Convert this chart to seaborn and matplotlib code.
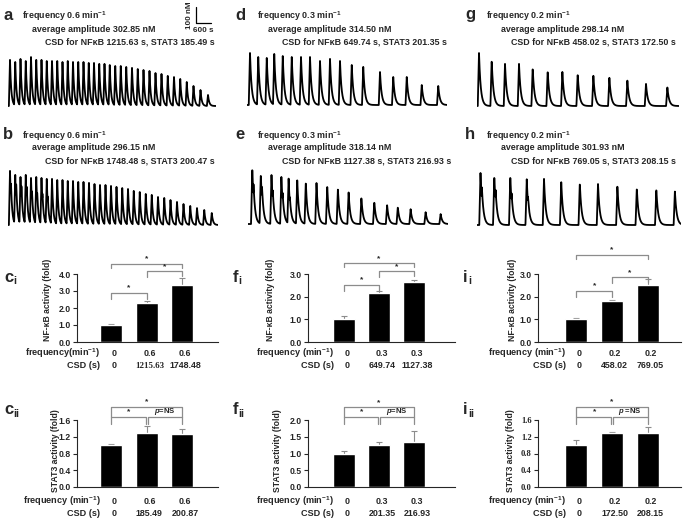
import matplotlib
matplotlib.use("Agg")
import matplotlib.pyplot as plt
import numpy as np
import seaborn as sns

sns.set_style("ticks")
plt.rcParams["font.family"] = ["Liberation Sans", "DejaVu Sans"]
plt.rcParams["font.weight"] = "bold"
plt.rcParams["mathtext.fontset"] = "custom"
plt.rcParams["mathtext.rm"] = "Liberation Sans:bold"
plt.rcParams["mathtext.it"] = "Liberation Sans:italic:bold"
plt.rcParams["mathtext.default"] = "regular"
plt.rcParams["axes.linewidth"] = 0.8

# ---------------- calcium traces: peak times (s) and peak heights (nM)
a_times = [80, 290, 500, 710, 920, 1130, 1340, 1550, 1760, 1970, 2180, 2390, 2600, 2810,
           3020, 3230, 3440, 3650, 3860, 4070, 4290, 4510, 4730, 4960, 5190, 5420, 5660,
           5900, 6140, 6390, 6640, 6890, 7150, 7420, 7700, 8000]
a_peaks = [288, 275, 294, 281, 306, 288, 288, 281, 281, 281, 275, 281, 275, 275, 275, 269,
           269, 263, 263, 256, 250, 250, 244, 238, 231, 225, 219, 206, 200, 188, 181, 169,
           150, 125, 100, 69]
b_times = [80, 290, 500, 710, 920, 1130, 1340, 1550, 1760, 1970, 2180, 2390, 2600, 2810,
           3020, 3240, 3460, 3680, 3900, 4120, 4340, 4570, 4800, 5030, 5270, 5510, 5750,
           6000, 6250, 6500, 6760, 7020, 7290, 7560, 7850, 8150]
b_peaks = [338, 313, 300, 313, 294, 300, 294, 288, 288, 281, 281, 275, 275, 269, 269, 263,
           256, 250, 250, 244, 238, 231, 225, 213, 206, 194, 188, 175, 169, 156, 144, 131,
           119, 106, 94, 75]
b_shoulders = [0.8, 0.85, 0.85, 0.8, 0.75, 0.7, 0.7, 0.65]
d_times = [120, 450, 790, 1090, 1430, 1790, 2160, 2520, 2920, 3320, 3720, 4190, 4650,
           5320, 5850, 6390, 6990, 7650]
d_peaks = [325, 300, 294, 319, 306, 300, 300, 300, 275, 288, 275, 250, 238, 206, 175,
           175, 125, 119]
e_times = [172, 512, 940, 1336, 1624, 1968, 2312, 2740, 3168, 3596, 4024, 4536, 5052,
           5564, 5992, 6504, 7104, 7704]
e_peaks = [350, 313, 306, 300, 288, 281, 263, 256, 238, 219, 200, 163, 138, 119, 106,
           94, 75, 63]
e_shoulders = [0.72, 0.75, 0.7, 0.65, 0.6]
g_times = [80, 587, 1120, 1680, 2227, 2827, 3413, 4027, 4653, 5293, 6013, 6760, 7613]
g_peaks = [331, 288, 263, 263, 238, 219, 219, 200, 194, 181, 163, 138, 119]
h_times = [140, 692, 1332, 1988, 2680, 3368, 4112, 4840, 5616, 6392, 7172, 7916]
h_peaks = [325, 306, 306, 294, 288, 275, 263, 256, 244, 231, 225, 213]
h_shoulders = [0.75, 0.72, 0.65, 0.6]

trace_info = {
    "a": ("0.6", "302.85", "1215.63", "185.49"),
    "b": ("0.6", "296.15", "1748.48", "200.47"),
    "d": ("0.3", "314.50", "649.74", "201.35"),
    "e": ("0.3", "318.14", "1127.38", "216.93"),
    "g": ("0.2", "298.14", "458.02", "172.50"),
    "h": ("0.2", "301.93", "769.05", "208.15"),
}

# ---------------- bar data (fold activity)
nfkb_c = [1.0, 2.31, 3.38]
nfkb_c_err = [0.07, 0.10, 0.38]
nfkb_f = [1.0, 2.15, 2.65]
nfkb_f_err = [0.14, 0.12, 0.10]
nfkb_i = [1.0, 1.80, 2.51]
nfkb_i_err = [0.05, 0.05, 0.25]
stat3_c = [1.0, 1.30, 1.26]
stat3_c_err = [0.03, 0.16, 0.12]
stat3_f = [1.0, 1.25, 1.35]
stat3_f_err = [0.07, 0.08, 0.32]
stat3_i = [1.0, 1.30, 1.30]
stat3_i_err = [0.12, 0.02, 0.14]

freq_c = ["0", "0.6", "0.6"]
freq_f = ["0", "0.3", "0.3"]
freq_i = ["0", "0.2", "0.2"]
csd_nfkb_c = ["0", "1215.63", "1748.48"]
csd_nfkb_f = ["0", "649.74", "1127.38"]
csd_nfkb_i = ["0", "458.02", "769.05"]
csd_stat3_c = ["0", "185.49", "200.87"]
csd_stat3_f = ["0", "201.35", "216.93"]
csd_stat3_i = ["0", "172.50", "208.15"]

# bracket heights (data units): pair 1-2, pair 2-3, pair 1-3
nfkb_brackets = {"c": (2.9, 4.19, 4.6), "f": (2.53, 3.14, 3.47), "i": (2.25, 2.88, 3.85)}
# STAT3: lower bracket, upper bracket, leg bottom
stat3_brackets = {"c": (1.67, 1.91, 1.5), "f": (2.09, 2.38, 1.88), "i": (1.67, 1.91, 1.5)}

W, H = 683, 519
S_PER_PX = 40
GREY = "#8c8c8c"

fig = plt.figure(figsize=(W / 100, H / 100), dpi=100)


def px_axes(x0, y0, w, h):
    return fig.add_axes([x0 / W, 1 - (y0 + h) / H, w / W, h / H])


def fig_text(x, y, s, **kw):
    kw.setdefault("va", "center")
    return fig.text(x / W, 1 - y / H, s, **kw)


def build_trace(times, peaks, shoulders, end, tau, rise_s):
    t = np.arange(0, end + 1, 5.0)
    y = np.zeros_like(t)
    spikes = list(zip(times, peaks))
    for i, s in enumerate(shoulders):
        spikes.append((times[i] + 0.75 * tau, peaks[i] * s))
    for tp, hp in spikes:
        rise = (t >= tp - rise_s) & (t <= tp)
        y = np.where(rise, np.maximum(y, hp * (t - tp + rise_s) / rise_s), y)
        after = t > tp
        y = np.where(after, np.maximum(y, hp * np.exp(-(t - tp) / tau)), y)
    return t, y


def trace_panel(x0, base, w, times, peaks, shoulders, tau, rise_s):
    ax = px_axes(x0, base - 64, w, 66.4)
    t, y = build_trace(times, peaks, shoulders, w * S_PER_PX, tau, rise_s)
    sns.lineplot(x=t, y=y, ax=ax, color="black", linewidth=1.3, estimator=None)
    ax.set_xlim(0, w * S_PER_PX)
    ax.set_ylim(-15, 400)
    ax.axis("off")
    return ax


def trace_text(cols, rows, letter):
    freq, amp, csd_n, csd_s = trace_info[letter]
    fig_text(cols[0], rows[0] - 1, letter, fontsize=12, fontweight="bold")
    fig_text(cols[1], rows[0], f"frequency {freq} min$^{{-1}}$", fontsize=6.4)
    fig_text(cols[2], rows[1], f"average amplitude {amp} nM", fontsize=6.4)
    fig_text(cols[3], rows[2], f"CSD for NF\u03baB {csd_n} s, STAT3 {csd_s} s", fontsize=6.4)


# trace panels
ax_a = trace_panel(8, 106, 208, a_times, a_peaks, [], 50, 45)
trace_panel(8, 225, 210, b_times, b_peaks, b_shoulders, 50, 45)
trace_panel(247, 105, 200, d_times, d_peaks, [], 65, 50)
trace_panel(248, 224, 200, e_times, e_peaks, e_shoulders, 65, 50)
trace_panel(477, 106, 202, g_times, g_peaks, [], 70, 50)
trace_panel(477, 225, 204, h_times, h_peaks, h_shoulders, 70, 50)

top_rows = (16, 29, 42)
bot_rows = (136, 148, 161)
col1 = (3, 22, 32, 45)
col2 = (235, 257, 268, 282)
col3 = (465, 486, 501, 511)
trace_text(col1, top_rows, "a")
trace_text(col1, bot_rows, "b")
trace_text(col2, top_rows, "d")
trace_text(col2, bot_rows, "e")
trace_text(col3, top_rows, "g")
trace_text(col3, bot_rows, "h")

# scale bar (100 nM, 600 s) drawn in trace a units
sx, sy = 7520, 519
ax_a.plot([sx, sx, sx + 600], [sy + 100, sy, sy], color="black", lw=0.9, clip_on=False)
ax_a.text(sx - 250, sy + 50, "100 nM", rotation=90, fontsize=5.8, ha="center", va="center")
ax_a.text(sx + 300, sy - 50, "600 s", fontsize=5.8, ha="center", va="center")


def bracket(ax, x1, x2, y, low1, low2):
    ax.plot([x1, x1, x2, x2], [low1, y, y, low2], color=GREY, lw=0.9, clip_on=False)


def bar_panel(rect, xlim, vals, errs, ymax, yticks, ylabel, label_dx, label_y,
              freqs, csds, freq_label, row_px, serif_ticks=False, csd_fonts=None):
    x0, y0, w, h = rect
    ax = px_axes(x0, y0, w, h)
    sns.barplot(x=["0", "1", "2"], y=vals, ax=ax, color="black", saturation=1,
                width=0.62, errorbar=None)
    ax.errorbar([0, 1, 2], vals, yerr=errs, fmt="none", ecolor=GREY, elinewidth=0.8,
                capsize=2, capthick=0.8, zorder=0.5)
    ax.set_xlim(*xlim)
    ax.set_ylim(0, ymax)
    ax.set_yticks(yticks)
    ax.set_yticklabels([f"{v:.1f}" for v in yticks])
    ax.tick_params(axis="y", labelsize=6.2, length=3, width=0.8, pad=1.5)
    ax.tick_params(axis="x", length=0, labelbottom=False)
    if serif_ticks:
        for lbl in ax.get_yticklabels():
            lbl.set_family("Liberation Serif")
    ax.set_xlabel("")
    ax.set_ylabel(ylabel, fontsize=6.2, fontweight="bold")
    ax.yaxis.set_label_coords(-label_dx / w, label_y)
    sns.despine(ax=ax)
    # rows under the axis
    for k, (fq, cs) in enumerate(zip(freqs, csds)):
        ax.annotate(fq, xy=(k + 0.08, 0), xycoords=("data", "axes fraction"),
                    xytext=(0, -row_px[0] * 0.72), textcoords="offset points",
                    ha="center", va="center", fontsize=6.4)
        fam = csd_fonts[k] if csd_fonts else "Liberation Sans"
        ax.annotate(cs, xy=(k + 0.08, 0), xycoords=("data", "axes fraction"),
                    xytext=(0, -row_px[1] * 0.72), textcoords="offset points",
                    ha="center", va="center", fontsize=6.4, family=fam)
    ax.annotate(freq_label, xy=(-0.3, 0), xycoords=("data", "axes fraction"),
                xytext=(0, -row_px[0] * 0.72), textcoords="offset points",
                ha="right", va="center", fontsize=6.6)
    ax.annotate("CSD (s)", xy=(-0.3, 0), xycoords=("data", "axes fraction"),
                xytext=(0, -row_px[1] * 0.72), textcoords="offset points",
                ha="right", va="center", fontsize=6.6)
    return ax


def nfkb_marks(ax, levels, ymax, h):
    b12, b23, b13 = levels
    u = ymax / h  # data units per pixel
    bracket(ax, 0, 1, b12, b12 - 6 * u, b12 - 6 * u)
    bracket(ax, 1, 2, b23, b23 - 6 * u, b23 - 5 * u)
    bracket(ax, 0, 2, b13, b13 - 4 * u, b13 - 4 * u)
    ax.text(0.5, b12 + 5 * u, "*", ha="center", va="center", fontsize=6)
    ax.text(1.5, b23 + 4 * u, "*", ha="center", va="center", fontsize=6)
    ax.text(1.0, b13 + 5 * u, "*", ha="center", va="center", fontsize=6)


def stat3_marks(ax, levels, ymax, h, ns_text):
    low, up, leg = levels
    u = ymax / h
    bracket(ax, 0, 0.97, low, leg, leg)
    bracket(ax, 1.03, 2, low, leg, leg)
    bracket(ax, 0, 2, up, low, low)
    mid = (low + up) / 2
    ax.text(0.5, mid, "*", ha="center", va="center", fontsize=6)
    ax.text(1.5, mid + 1 * u, ns_text, ha="center", va="center", fontsize=5.5)
    ax.text(1.0, up + 5 * u, "*", ha="center", va="center", fontsize=6)


nf_rows = (11, 24)
st_rows = (14, 27)
nf_label = "NF-\u03baB activity (fold)"
st_label = "STAT3 activity (fold)"

ax = bar_panel((77, 274, 141, 68), (-0.958, 3.01), nfkb_c, nfkb_c_err, 4.0,
               [0, 1, 2, 3, 4], nf_label, 25, 0.62, freq_c, csd_nfkb_c,
               "frequency(min$^{-1}$)", nf_rows,
               csd_fonts=["Liberation Sans", "Liberation Serif", "Liberation Sans"])
nfkb_marks(ax, nfkb_brackets["c"], 4.0, 68)
ax = bar_panel((308, 274, 147, 68), (-1.03, 3.17), nfkb_f, nfkb_f_err, 3.0,
               [0, 1, 2, 3], nf_label, 33, 0.62, freq_f, csd_nfkb_f,
               "frequency (min$^{-1}$)", nf_rows)
nfkb_marks(ax, nfkb_brackets["f"], 3.0, 68)
ax = bar_panel((538, 274, 143, 68), (-1.08, 2.94), nfkb_i, nfkb_i_err, 3.0,
               [0, 1, 2, 3], nf_label, 21, 0.62, freq_i, csd_nfkb_i,
               "frequency (min$^{-1}$)", nf_rows)
nfkb_marks(ax, nfkb_brackets["i"], 3.0, 68)

ax = bar_panel((77, 420, 141, 67), (-0.958, 3.01), stat3_c, stat3_c_err, 1.6,
               [0, 0.4, 0.8, 1.2, 1.6], st_label, 17, 0.55, freq_c, csd_stat3_c,
               "frequency (min$^{-1}$)", st_rows)
stat3_marks(ax, stat3_brackets["c"], 1.6, 67, "$\\mathit{p}$=NS")
ax = bar_panel((308, 420, 147, 67), (-1.03, 3.17), stat3_f, stat3_f_err, 2.0,
               [0, 0.5, 1.0, 1.5, 2.0], st_label, 26, 0.55, freq_f, csd_stat3_f,
               "frequency (min$^{-1}$)", st_rows)
stat3_marks(ax, stat3_brackets["f"], 2.0, 67, "$\\mathit{p}$=NS")
ax = bar_panel((538, 420, 143, 67), (-1.08, 2.94), stat3_i, stat3_i_err, 1.6,
               [0, 0.4, 0.8, 1.2, 1.6], st_label, 23, 0.55, freq_i, csd_stat3_i,
               "frequency (min$^{-1}$)", st_rows, serif_ticks=True)
stat3_marks(ax, stat3_brackets["i"], 1.6, 67, "$\\mathit{p}$ =NS")

# panel labels with subscripts
for x, y, main, sub in [(4, 277, "c", "i"), (233, 277, "f", "i"), (463, 277, "i", "i"),
                        (4, 410, "c", "ii"), (233, 410, "f", "ii"), (463, 410, "i", "ii")]:
    fig_text(x, y, main, fontsize=12, fontweight="bold")
    fig_text(x + (9 if main == "c" else 5), y + 4, sub, fontsize=7.5, fontweight="bold")

fig.savefig("out.png", dpi=100)
